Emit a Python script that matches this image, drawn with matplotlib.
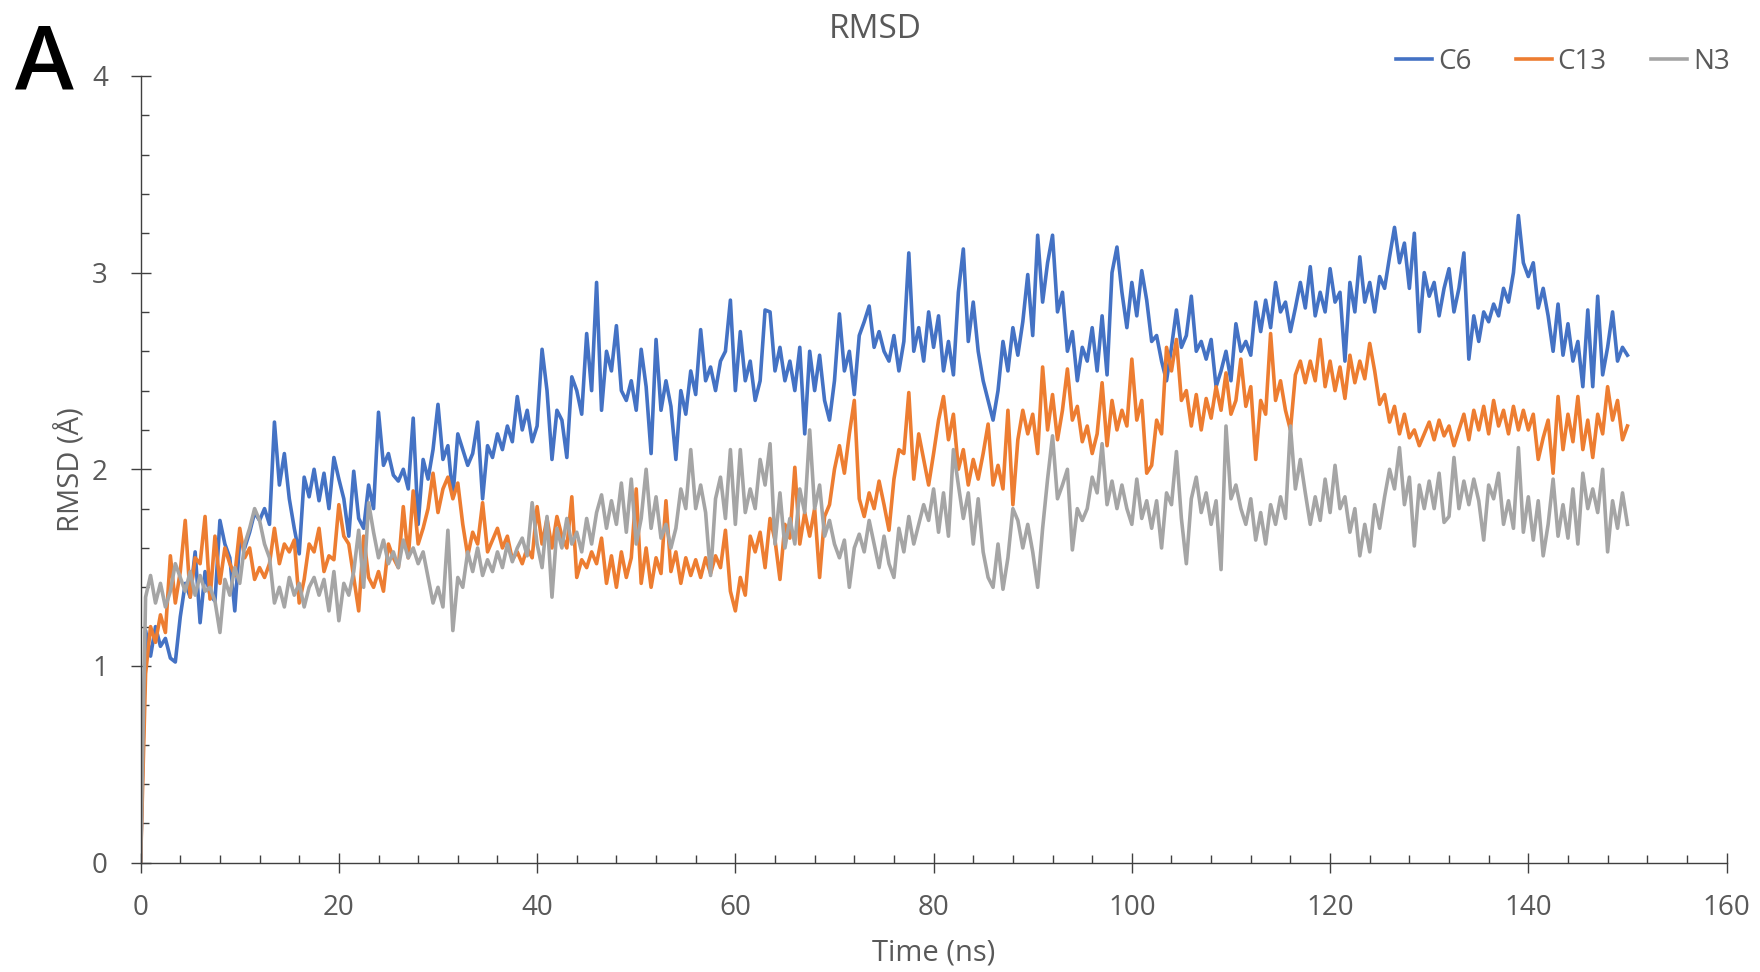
import numpy as np
import matplotlib
matplotlib.use("Agg")
import matplotlib.pyplot as plt
from matplotlib.ticker import MultipleLocator

plt.rcParams['font.family'] = ['Open Sans', 'DejaVu Sans']

c6 = [0.0,
      1.18, 1.05, 1.20, 1.10, 1.14, 1.04, 1.02, 1.25, 1.42, 1.35,
      1.58, 1.22, 1.48, 1.36, 1.33, 1.74, 1.62, 1.55, 1.28, 1.64,
      1.60, 1.68, 1.78, 1.74, 1.80, 1.72, 2.24, 1.92, 2.08, 1.85,
      1.70, 1.57, 1.96, 1.86, 2.00, 1.84, 1.98, 1.80, 2.06, 1.95,
      1.85, 1.66, 1.99, 1.75, 1.70, 1.92, 1.80, 2.29, 2.02, 2.08,
      1.97, 1.94, 2.00, 1.90, 2.26, 1.72, 2.05, 1.95, 2.10, 2.33,
      2.05, 2.12, 1.86, 2.18, 2.10, 2.02, 2.08, 2.24, 1.85, 2.12,
      2.06, 2.18, 2.10, 2.22, 2.14, 2.37, 2.20, 2.30, 2.14, 2.22,
      2.61, 2.40, 2.05, 2.30, 2.25, 2.06, 2.47, 2.40, 2.28, 2.69,
      2.40, 2.95, 2.30, 2.60, 2.50, 2.73, 2.40, 2.35, 2.45, 2.30,
      2.61, 2.42, 2.08, 2.66, 2.30, 2.45, 2.32, 2.05, 2.40, 2.28,
      2.50, 2.38, 2.71, 2.45, 2.52, 2.40, 2.55, 2.60, 2.86, 2.40,
      2.70, 2.45, 2.55, 2.35, 2.45, 2.81, 2.80, 2.50, 2.62, 2.45,
      2.55, 2.40, 2.62, 2.18, 2.60, 2.40, 2.58, 2.35, 2.25, 2.45,
      2.79, 2.50, 2.60, 2.38, 2.68, 2.75, 2.83, 2.62, 2.70, 2.60,
      2.55, 2.68, 2.50, 2.65, 3.10, 2.60, 2.72, 2.55, 2.80, 2.62,
      2.78, 2.50, 2.65, 2.48, 2.90, 3.12, 2.65, 2.85, 2.60, 2.45,
      2.35, 2.25, 2.40, 2.65, 2.50, 2.72, 2.58, 2.75, 2.99, 2.68,
      3.19, 2.85, 3.05, 3.19, 2.80, 2.90, 2.60, 2.70, 2.45, 2.62,
      2.55, 2.72, 2.50, 2.78, 2.48, 3.00, 3.13, 2.90, 2.72, 2.95,
      2.78, 3.01, 2.86, 2.65, 2.68, 2.55, 2.45, 2.62, 2.81, 2.62,
      2.68, 2.88, 2.60, 2.65, 2.56, 2.66, 2.42, 2.50, 2.60, 2.45,
      2.74, 2.60, 2.65, 2.58, 2.85, 2.70, 2.86, 2.72, 2.95, 2.80,
      2.85, 2.70, 2.82, 2.95, 2.82, 3.03, 2.78, 2.90, 2.80, 3.02,
      2.85, 2.90, 2.55, 2.95, 2.80, 3.08, 2.85, 2.95, 2.80, 2.98,
      2.92, 3.08, 3.23, 3.05, 3.15, 2.92, 3.20, 2.70, 3.00, 2.88,
      2.95, 2.78, 2.92, 3.02, 2.80, 2.92, 3.10, 2.56, 2.78, 2.65,
      2.80, 2.75, 2.84, 2.78, 2.92, 2.85, 3.00, 3.29, 3.05, 2.98,
      3.05, 2.82, 2.92, 2.78, 2.60, 2.84, 2.58, 2.74, 2.55, 2.65,
      2.42, 2.81, 2.42, 2.88, 2.48, 2.62, 2.80, 2.55, 2.62, 2.58]

c13 = [0.0,
       0.96, 1.20, 1.12, 1.26, 1.17, 1.56, 1.32, 1.48, 1.74, 1.35,
       1.55, 1.52, 1.76, 1.34, 1.66, 1.42, 1.60, 1.52, 1.46, 1.70,
       1.55, 1.60, 1.44, 1.50, 1.45, 1.52, 1.70, 1.52, 1.62, 1.58,
       1.64, 1.32, 1.44, 1.62, 1.58, 1.70, 1.48, 1.56, 1.54, 1.82,
       1.66, 1.62, 1.45, 1.28, 1.66, 1.45, 1.40, 1.48, 1.38, 1.62,
       1.55, 1.50, 1.81, 1.55, 1.89, 1.62, 1.70, 1.80, 1.98, 1.78,
       1.90, 1.96, 1.85, 1.93, 1.72, 1.56, 1.68, 1.62, 1.83, 1.58,
       1.64, 1.70, 1.60, 1.66, 1.54, 1.58, 1.52, 1.60, 1.55, 1.81,
       1.62, 1.75, 1.60, 1.76, 1.66, 1.60, 1.86, 1.45, 1.54, 1.50,
       1.58, 1.52, 1.65, 1.42, 1.56, 1.40, 1.58, 1.45, 1.55, 1.90,
       1.42, 1.60, 1.40, 1.55, 1.47, 1.84, 1.48, 1.58, 1.42, 1.55,
       1.46, 1.54, 1.45, 1.55, 1.47, 1.56, 1.50, 1.69, 1.38, 1.28,
       1.45, 1.36, 1.66, 1.58, 1.68, 1.50, 1.75, 1.64, 1.44, 1.72,
       1.65, 2.01, 1.62, 1.78, 1.66, 1.80, 1.45, 1.76, 1.82, 2.00,
       2.12, 1.98, 2.18, 2.35, 1.85, 1.76, 1.88, 1.80, 1.94, 1.82,
       1.69, 1.95, 2.10, 2.08, 2.39, 1.95, 2.18, 2.05, 1.92, 2.08,
       2.25, 2.37, 2.15, 2.28, 2.00, 2.10, 1.92, 2.05, 1.95, 2.08,
       2.23, 1.92, 2.02, 1.90, 2.30, 1.82, 2.15, 2.30, 2.18, 2.28,
       2.08, 2.52, 2.20, 2.38, 2.15, 2.30, 2.51, 2.25, 2.32, 2.14,
       2.22, 2.08, 2.18, 2.44, 2.12, 2.35, 2.20, 2.30, 2.22, 2.56,
       2.25, 2.35, 1.98, 2.02, 2.25, 2.18, 2.62, 2.50, 2.66, 2.35,
       2.40, 2.22, 2.38, 2.20, 2.36, 2.26, 2.42, 2.30, 2.49, 2.28,
       2.35, 2.56, 2.32, 2.42, 2.05, 2.35, 2.28, 2.69, 2.35, 2.45,
       2.30, 2.20, 2.48, 2.55, 2.44, 2.55, 2.45, 2.66, 2.42, 2.55,
       2.40, 2.52, 2.36, 2.58, 2.44, 2.55, 2.46, 2.64, 2.50, 2.33,
       2.38, 2.24, 2.32, 2.18, 2.28, 2.16, 2.20, 2.12, 2.18, 2.24,
       2.15, 2.25, 2.17, 2.22, 2.12, 2.20, 2.28, 2.15, 2.30, 2.20,
       2.32, 2.18, 2.35, 2.22, 2.30, 2.18, 2.32, 2.20, 2.30, 2.20,
       2.28, 2.05, 2.16, 2.25, 1.98, 2.37, 2.10, 2.28, 2.14, 2.37,
       2.10, 2.25, 2.06, 2.28, 2.18, 2.42, 2.25, 2.35, 2.15, 2.22]

n3 = [0.0,
      1.35, 1.46, 1.32, 1.42, 1.30, 1.38, 1.52, 1.45, 1.38, 1.48,
      1.36, 1.46, 1.38, 1.40, 1.33, 1.17, 1.44, 1.36, 1.50, 1.42,
      1.62, 1.70, 1.80, 1.74, 1.62, 1.55, 1.32, 1.40, 1.30, 1.45,
      1.36, 1.42, 1.30, 1.40, 1.45, 1.36, 1.44, 1.28, 1.48, 1.23,
      1.42, 1.36, 1.48, 1.69, 1.40, 1.83, 1.68, 1.55, 1.64, 1.52,
      1.58, 1.50, 1.64, 1.55, 1.60, 1.52, 1.58, 1.45, 1.32, 1.40,
      1.30, 1.69, 1.18, 1.45, 1.40, 1.58, 1.48, 1.60, 1.46, 1.54,
      1.48, 1.58, 1.50, 1.62, 1.53, 1.60, 1.65, 1.56, 1.83, 1.62,
      1.50, 1.76, 1.35, 1.70, 1.60, 1.75, 1.62, 1.68, 1.58, 1.75,
      1.62, 1.78, 1.87, 1.70, 1.84, 1.72, 1.93, 1.68, 1.95, 1.62,
      1.75, 2.00, 1.70, 1.86, 1.65, 1.72, 1.60, 1.70, 1.90, 1.80,
      2.10, 1.80, 1.92, 1.78, 1.46, 1.85, 1.96, 1.75, 2.10, 1.72,
      2.10, 1.78, 1.90, 1.80, 2.05, 1.92, 2.13, 1.62, 1.88, 1.60,
      1.75, 1.62, 1.90, 1.78, 2.20, 1.80, 1.92, 1.66, 1.74, 1.62,
      1.55, 1.64, 1.40, 1.60, 1.67, 1.58, 1.74, 1.62, 1.50, 1.66,
      1.52, 1.45, 1.70, 1.58, 1.76, 1.62, 1.72, 1.82, 1.74, 1.90,
      1.68, 1.88, 1.66, 2.10, 1.92, 1.75, 1.88, 1.62, 1.85, 1.58,
      1.45, 1.40, 1.62, 1.39, 1.55, 1.80, 1.74, 1.60, 1.72, 1.58,
      1.40, 1.70, 1.95, 2.17, 1.85, 1.92, 2.00, 1.59, 1.80, 1.74,
      1.80, 1.96, 1.88, 2.13, 1.82, 1.94, 1.80, 1.92, 1.80, 1.72,
      1.95, 1.75, 1.84, 1.70, 1.84, 1.60, 1.88, 1.82, 2.09, 1.75,
      1.52, 1.85, 1.96, 1.78, 1.88, 1.72, 1.84, 1.49, 2.22, 1.85,
      1.92, 1.80, 1.72, 1.85, 1.64, 1.78, 1.62, 1.82, 1.72, 1.86,
      1.75, 2.22, 1.90, 2.05, 1.88, 1.72, 1.86, 1.74, 1.95, 1.78,
      2.02, 1.80, 1.86, 1.68, 1.80, 1.56, 1.72, 1.58, 1.82, 1.70,
      1.86, 2.00, 1.90, 2.11, 1.82, 1.96, 1.61, 1.92, 1.80, 1.94,
      1.80, 1.98, 1.73, 1.76, 2.06, 1.80, 1.94, 1.82, 1.95, 1.84,
      1.64, 1.92, 1.85, 1.98, 1.72, 1.84, 1.70, 2.11, 1.68, 1.86,
      1.64, 1.84, 1.56, 1.72, 1.95, 1.66, 1.82, 1.65, 1.90, 1.62,
      1.98, 1.80, 1.90, 1.78, 2.00, 1.58, 1.84, 1.70, 1.88, 1.72]

series_names = ["C6", "C13", "N3"]
series_colors = ["#4472C4", "#ED7D31", "#A5A5A5"]

time_ns = np.arange(len(c6)) * 0.5

grey = "#595959"
axis_col = "#404040"

fig = plt.figure(figsize=(17.6, 9.72), dpi=100)
ax = fig.add_axes([0.0799, 0.1125, 0.9011, 0.8094])

for vals, name, col in zip([c6, c13, n3], series_names, series_colors):
    ax.plot(time_ns, vals, color=col, lw=2.6, label=name)

ax.set_xlim(0, 160)
ax.set_ylim(0, 4)
ax.xaxis.set_major_locator(MultipleLocator(20))
ax.xaxis.set_minor_locator(MultipleLocator(4))
ax.yaxis.set_major_locator(MultipleLocator(1))
ax.yaxis.set_minor_locator(MultipleLocator(0.2))

for s in ["top", "right"]:
    ax.spines[s].set_visible(False)
for s in ["left", "bottom"]:
    ax.spines[s].set_color(axis_col)
    ax.spines[s].set_linewidth(1.0)

ax.tick_params(axis="both", which="major", direction="inout", length=15,
               width=1.0, color=axis_col, labelcolor=grey, labelsize=20)
ax.tick_params(axis="both", which="minor", direction="in", length=5.5,
               width=1.0, color=axis_col)
ax.tick_params(axis="x", which="major", pad=15)
ax.tick_params(axis="y", which="major", pad=16)

ax.set_xlabel("Time (ns)", fontsize=21, color=grey, labelpad=12)
ax.set_ylabel("RMSD (Å)", fontsize=21, color=grey, labelpad=4)

fig.text(0.497, 0.970, "RMSD", fontsize=24, color=grey, ha="center", va="center")
fig.text(0.025, 0.932, "A", fontsize=64, fontweight="semibold", color="black",
         ha="center", va="center")

fig.legend(loc="center", bbox_to_anchor=(0.888, 0.936), ncol=3, frameon=False,
           fontsize=20, handlelength=1.3, handletextpad=0.2, columnspacing=1.6,
           labelcolor=grey)

fig.savefig("out.png", dpi=100)
